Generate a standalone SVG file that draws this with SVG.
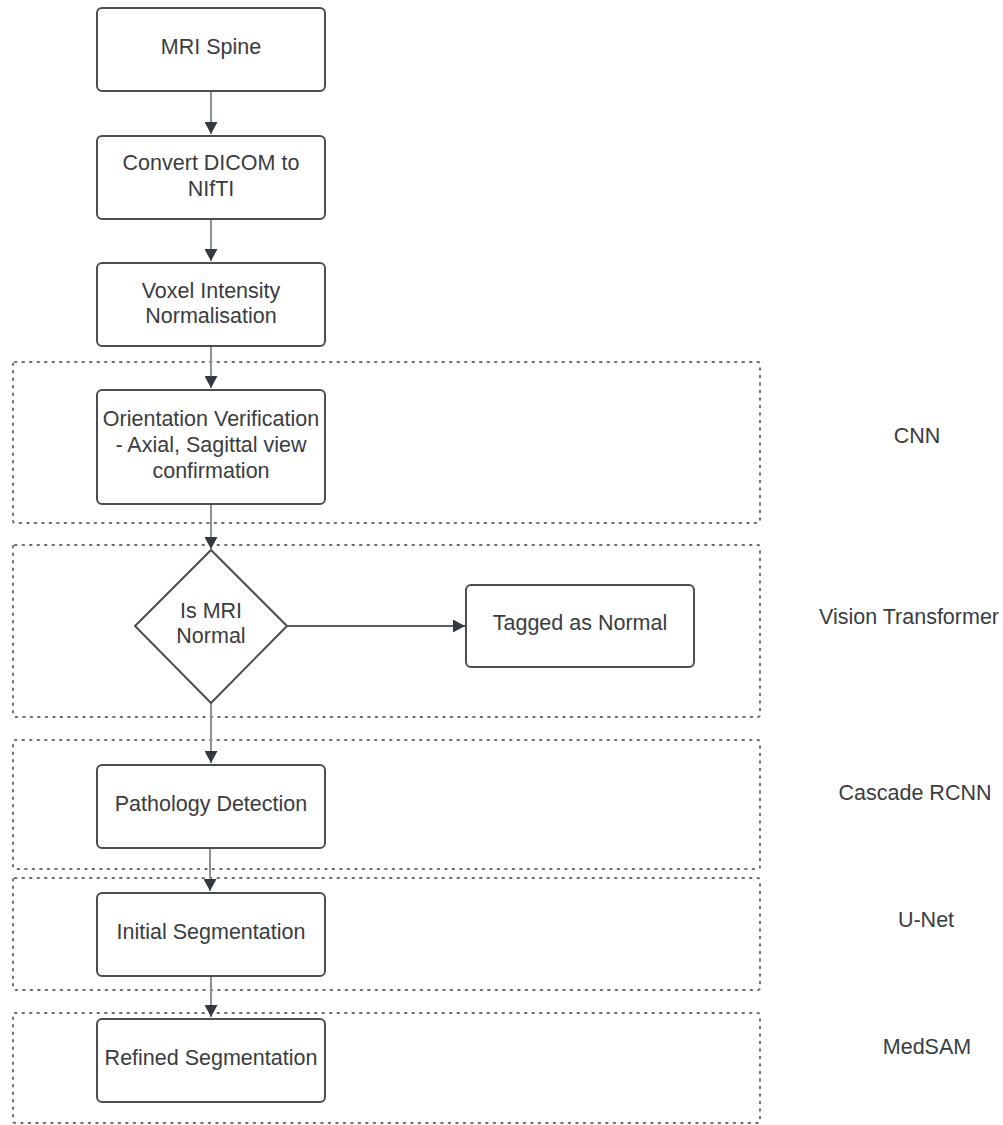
<svg xmlns="http://www.w3.org/2000/svg" width="1003" height="1125" viewBox="0 0 1003 1125">
<style>
.bg{fill:#ffffff}
.box{fill:#ffffff;stroke:#4a4d52;stroke-width:2}
.zone{fill:none;stroke:#6b6e73;stroke-width:2;stroke-dasharray:1.5 6;stroke-linecap:round}
.t{font-family:"Liberation Sans",Arial,sans-serif;font-size:21.5px;fill:#3a3c40;text-anchor:middle}
.lab{font-family:"Liberation Sans",Arial,sans-serif;font-size:21.5px;fill:#3a3c40;text-anchor:middle}
.con{stroke:#8e9095;stroke-width:2;fill:none}
.conh{stroke:#5a5d62;stroke-width:2;fill:none}
</style>
<defs>
<marker id="ah" markerUnits="userSpaceOnUse" markerWidth="13" markerHeight="13" refX="12" refY="6.5" orient="auto">
<path d="M0,0 L12,6.5 L0,13 z" fill="#353a42"/>
</marker>
</defs>
<rect class="bg" x="0" y="0" width="1003" height="1125"/>
<g id="zones">
<g id="zone-cnn"><rect class="zone" x="13" y="362" width="747" height="161" rx="2"/><text class="lab" x="917" y="443">CNN</text></g>
<g id="zone-vit"><rect class="zone" x="13" y="545" width="747" height="172" rx="2"/><text class="lab" x="909" y="624">Vision Transformer</text></g>
<g id="zone-rcnn"><rect class="zone" x="13" y="740" width="747" height="129" rx="2"/><text class="lab" x="915" y="800">Cascade RCNN</text></g>
<g id="zone-unet"><rect class="zone" x="13" y="878" width="747" height="112" rx="2"/><text class="lab" x="926" y="927">U-Net</text></g>
<g id="zone-medsam"><rect class="zone" x="13" y="1013" width="747" height="110" rx="2"/><text class="lab" x="927" y="1054">MedSAM</text></g>
</g>
<g id="connectors">
<line class="con" x1="211" y1="91" x2="211" y2="134" marker-end="url(#ah)"/>
<line class="con" x1="211" y1="219" x2="211" y2="261" marker-end="url(#ah)"/>
<line class="con" x1="211" y1="346" x2="211" y2="388" marker-end="url(#ah)"/>
<line class="con" x1="211" y1="504" x2="211" y2="549" marker-end="url(#ah)"/>
<line class="con" x1="211" y1="703" x2="211" y2="763" marker-end="url(#ah)"/>
<line class="con" x1="210" y1="848" x2="210" y2="891" marker-end="url(#ah)"/>
<line class="con" x1="211" y1="976" x2="211" y2="1017" marker-end="url(#ah)"/>
<line class="conh" x1="287" y1="626" x2="465" y2="626" marker-end="url(#ah)"/>
</g>
<g id="n-mri"><rect class="box" x="97" y="8" width="228" height="83" rx="5"/><text class="t" x="211" y="54">MRI Spine</text></g>
<g id="n-convert"><rect class="box" x="97" y="136" width="228" height="83" rx="5"/><text class="t" x="211" y="170">Convert DICOM to</text><text class="t" x="211" y="196">NIfTI</text></g>
<g id="n-voxel"><rect class="box" x="97" y="263" width="228" height="83" rx="5"/><text class="t" x="211" y="298">Voxel Intensity</text><text class="t" x="211" y="323">Normalisation</text></g>
<g id="n-orient"><rect class="box" x="97" y="390" width="228" height="114" rx="5"/><text class="t" x="211" y="426">Orientation Verification</text><text class="t" x="211" y="452">- Axial, Sagittal view</text><text class="t" x="211" y="478">confirmation</text></g>
<g id="n-decision"><path class="box" d="M211,550 L287,626 L211,703 L135,626 z" stroke-linejoin="round"/><text class="t" x="211" y="618">Is MRI</text><text class="t" x="211" y="643">Normal</text></g>
<g id="n-tagged"><rect class="box" x="466" y="585" width="228" height="82" rx="5"/><text class="t" x="580" y="630">Tagged as Normal</text></g>
<g id="n-patho"><rect class="box" x="97" y="765" width="228" height="83" rx="5"/><text class="t" x="211" y="811">Pathology Detection</text></g>
<g id="n-initseg"><rect class="box" x="97" y="893" width="228" height="83" rx="5"/><text class="t" x="211" y="939">Initial Segmentation</text></g>
<g id="n-refseg"><rect class="box" x="97" y="1019" width="228" height="83" rx="5"/><text class="t" x="211" y="1065">Refined Segmentation</text></g>
</svg>
